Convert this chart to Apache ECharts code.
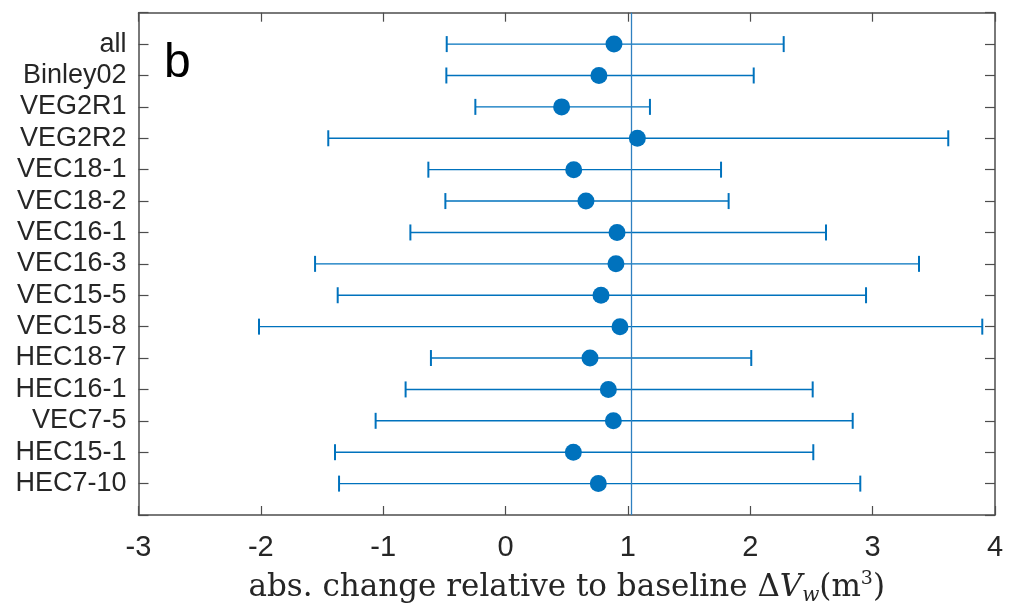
<!DOCTYPE html>
<html>
<head>
<meta charset="utf-8">
<script src="https://cdn.jsdelivr.net/npm/echarts@6/dist/echarts.min.js"></script>
<style>
  html, body { margin: 0; padding: 0; background: #fff; }
  #chart { width: 1009px; height: 604px; }
</style>
</head>
<body>
<div id="chart"></div>
<script>
// Scenario names, top to bottom
const categories = ['all', 'Binley02', 'VEG2R1', 'VEG2R2', 'VEC18-1', 'VEC18-2', 'VEC16-1',
  'VEC16-3', 'VEC15-5', 'VEC15-8', 'HEC18-7', 'HEC16-1', 'VEC7-5', 'HEC15-1', 'HEC7-10'];
// Mean change and interval bounds (m^3)
const means = [0.886, 0.763, 0.458, 1.077, 0.557, 0.657, 0.911, 0.902, 0.780, 0.935, 0.690, 0.840, 0.881, 0.554, 0.758];
const lower = [-0.481, -0.484, -0.247, -1.449, -0.631, -0.492, -0.778, -1.557, -1.372, -2.015, -0.610, -0.817, -1.062, -1.394, -1.361];
const upper = [2.273, 2.028, 1.180, 3.618, 1.761, 1.823, 2.619, 3.379, 2.946, 3.896, 2.008, 2.510, 2.837, 2.515, 2.899];
// Reference line position
const refValue = 1.031;
const xTicks = [-3, -2, -1, 0, 1, 2, 3, 4];

const BLUE = '#0072BD';
const AXIS = '#4d4d4d';
const TEXT = '#262626';
const SANS = '"Liberation Sans", Arial, Helvetica, sans-serif';
const SERIF = '"DejaVu Serif", "Liberation Serif", serif';

const rows = categories.map((c, i) => i + 1);
const pointData = means.map((m, i) => [m, rows[i]]);
const barData = means.map((m, i) => [lower[i], upper[i], rows[i]]);

const chart = echarts.init(document.getElementById('chart'), null, { renderer: 'canvas' });

const baseX = {
  type: 'value', min: xTicks[0], max: xTicks[xTicks.length - 1], interval: 1,
  axisLine: { show: true, onZero: false, lineStyle: { color: AXIS, width: 1.5 } },
  axisTick: { show: true, inside: true, length: 9, lineStyle: { color: AXIS, width: 1.2 } },
  splitLine: { show: false }
};
const baseY = {
  type: 'value', min: 0, max: categories.length + 1, interval: 1, inverse: true,
  axisLine: { show: true, onZero: false, lineStyle: { color: AXIS, width: 1.5 } },
  axisTick: { show: true, inside: true, length: 10, lineStyle: { color: AXIS, width: 1.2 } },
  splitLine: { show: false }
};

chart.setOption({
  animation: false,
  grid: { left: 138.5, right: 14, top: 12.7, bottom: 89, containLabel: false, outerBoundsMode: 'none' },
  xAxis: [
    Object.assign({}, baseX, {
      position: 'bottom',
      axisLabel: {
        show: true, color: TEXT, fontFamily: SANS, fontSize: 29, margin: 18,
        formatter: v => xTicks.includes(v) ? String(v) : ''
      },
      name: 'abs. change relative to baseline {d|Δ}{v|V}{s|w}{p|(m}{sup|3}{p|)}',
      nameLocation: 'middle',
      nameGap: 55,
      nameTextStyle: {
        color: TEXT, fontFamily: SERIF, fontSize: 31, lineHeight: 36,
        rich: {
          d: { fontFamily: SERIF, fontSize: 31, lineHeight: 36, color: TEXT },
          v: { fontFamily: SERIF, fontStyle: 'italic', fontSize: 31, lineHeight: 36, color: TEXT },
          s: { fontFamily: SERIF, fontStyle: 'italic', fontSize: 20, lineHeight: 18, verticalAlign: 'bottom', color: TEXT },
          p: { fontFamily: SERIF, fontSize: 31, lineHeight: 36, color: TEXT },
          sup: { fontFamily: SERIF, fontSize: 19, lineHeight: 22, verticalAlign: 'top', color: TEXT }
        }
      }
    }),
    Object.assign({}, baseX, { position: 'top', axisLabel: { show: false } })
  ],
  yAxis: [
    Object.assign({}, baseY, {
      position: 'left',
      axisLabel: {
        show: true, color: TEXT, fontFamily: SANS, fontSize: 27, margin: 12,
        formatter: v => (v >= 1 && v <= categories.length) ? categories[v - 1] : ''
      }
    }),
    Object.assign({}, baseY, { position: 'right', axisLabel: { show: false } })
  ],
  graphic: [{
    type: 'text', left: 164, top: 40, z: 100,
    style: { text: 'b', font: '48px ' + SANS, fill: '#000' }
  }],
  series: [
    {
      type: 'custom',
      name: 'interval',
      xAxisIndex: 0, yAxisIndex: 0,
      data: barData,
      encode: { x: [0, 1], y: 2 },
      renderItem: function (params, api) {
        const lo = api.coord([api.value(0), api.value(2)]);
        const hi = api.coord([api.value(1), api.value(2)]);
        const cap = 8;
        const style = { stroke: BLUE, lineWidth: 1.4, fill: null };
        return {
          type: 'group',
          children: [
            { type: 'line', shape: { x1: lo[0], y1: lo[1], x2: hi[0], y2: hi[1] }, style: style },
            { type: 'line', shape: { x1: lo[0], y1: lo[1] - cap, x2: lo[0], y2: lo[1] + cap }, style: Object.assign({}, style, { lineWidth: 2 }) },
            { type: 'line', shape: { x1: hi[0], y1: hi[1] - cap, x2: hi[0], y2: hi[1] + cap }, style: Object.assign({}, style, { lineWidth: 2 }) }
          ]
        };
      },
      z: 2
    },
    {
      type: 'scatter',
      name: 'mean',
      xAxisIndex: 0, yAxisIndex: 0,
      data: pointData,
      symbol: 'circle',
      symbolSize: 17,
      itemStyle: { color: BLUE, opacity: 1 },
      z: 4,
      markLine: {
        silent: true,
        symbol: 'none',
        label: { show: false },
        lineStyle: { color: '#2f80c0', width: 1.3, type: 'solid' },
        data: [{ xAxis: refValue }],
        z: 3
      }
    }
  ]
});
</script>
</body>
</html>
